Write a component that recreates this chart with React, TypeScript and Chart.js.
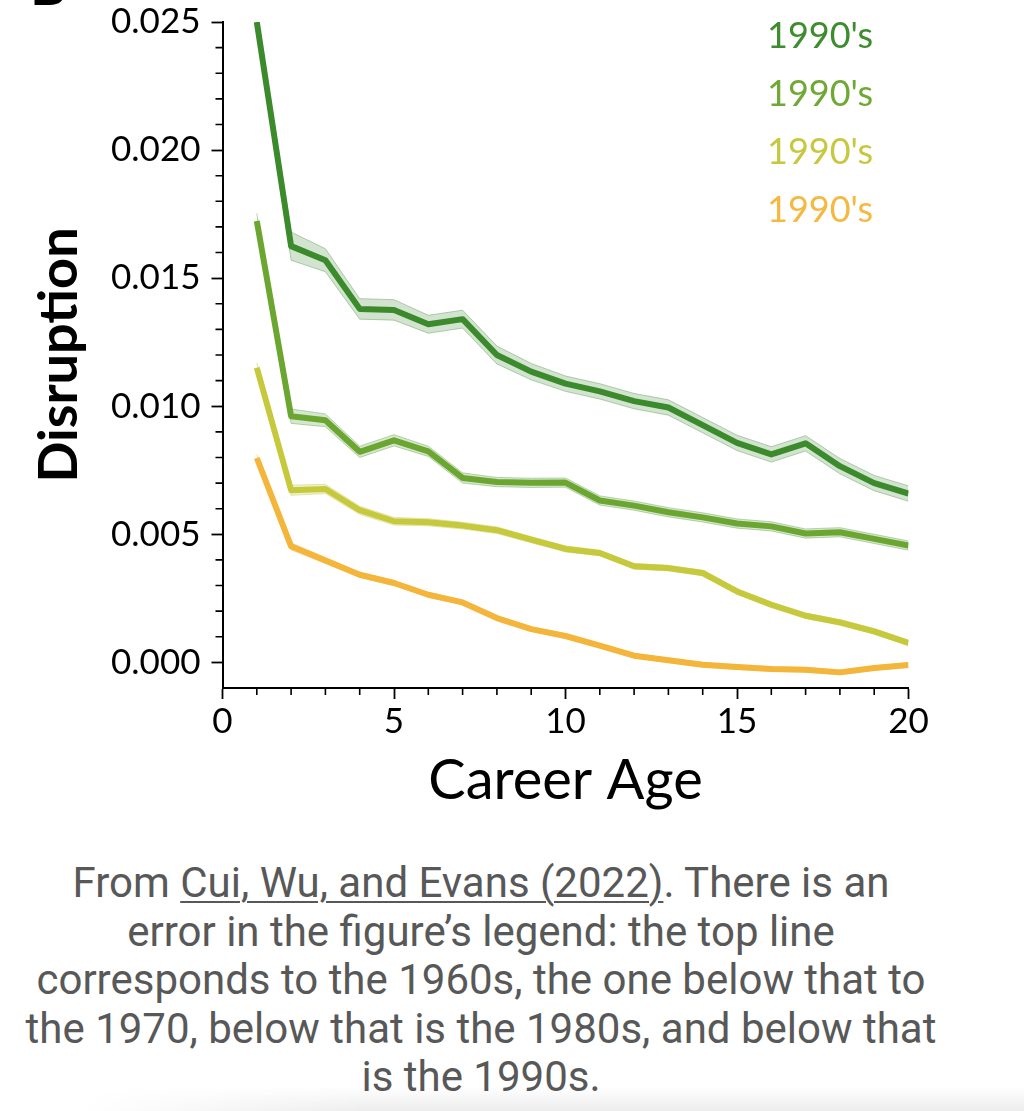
import React, { useEffect, useRef } from 'react';
import { Chart, registerables } from 'chart.js';

Chart.register(...registerables);

// ---- data ----
const careerAge = [1, 2, 3, 4, 5, 6, 7, 8, 9, 10, 11, 12, 13, 14, 15, 16, 17, 18, 19, 20];

const line1960 = [0.0250, 0.01625, 0.01570, 0.01380, 0.01376, 0.01320, 0.01340, 0.01200, 0.01135, 0.01088,
  0.01058, 0.01020, 0.00995, 0.00926, 0.00857, 0.00812, 0.00855, 0.00766, 0.00700, 0.00659];
const line1970 = [0.01723, 0.00961, 0.00945, 0.00822, 0.00867, 0.00824, 0.00720, 0.00704, 0.00701, 0.00702,
  0.00632, 0.00612, 0.00586, 0.00566, 0.00542, 0.00531, 0.00503, 0.00508, 0.00482, 0.00456];
const line1980 = [0.01150, 0.00672, 0.00677, 0.00594, 0.00551, 0.00547, 0.00534, 0.00516, 0.00479, 0.00443,
  0.00427, 0.00375, 0.00368, 0.00349, 0.00277, 0.00225, 0.00182, 0.00156, 0.00121, 0.00076];
const line1990 = [0.00798, 0.00453, 0.00398, 0.00342, 0.00310, 0.00264, 0.00234, 0.00173, 0.00130, 0.00103,
  0.00065, 0.00026, 0.00008, -0.00009, -0.00018, -0.00026, -0.00029, -0.00039, -0.00022, -0.00010];

// half-widths of the shaded confidence bands
const ci1960 = [0.0004, 0.00055, 0.00045, 0.0004, 0.0004, 0.00035, 0.00035, 0.00035, 0.00032, 0.0003,
  0.0003, 0.0003, 0.0003, 0.0003, 0.0003, 0.0003, 0.0003, 0.0003, 0.0003, 0.0003];
const ci1970 = [0.0003, 0.00028, 0.00025, 0.00022, 0.00022, 0.0002, 0.0002, 0.00018, 0.00018, 0.00018,
  0.00018, 0.00018, 0.00018, 0.00018, 0.00018, 0.00018, 0.00018, 0.00018, 0.00018, 0.00018];
const ci1980 = [0.0002, 0.0002, 0.00018, 0.00016, 0.00015, 0.00014, 0.00013, 0.00013, 0.00012, 0.00012,
  0.00011, 0.00011, 0.00011, 0.00011, 0.00011, 0.00011, 0.00011, 0.00011, 0.00011, 0.00011];
const ci1990 = [0.00015, 0.00014, 0.00012, 0.0001, 0.0001, 0.00009, 0.00009, 0.00009, 0.00009, 0.00009,
  0.00009, 0.00009, 0.00009, 0.00009, 0.00009, 0.00009, 0.00009, 0.00009, 0.00009, 0.00009];

const xTickValues = [0, 5, 10, 15, 20];
const yTickValues = [0, 0.005, 0.01, 0.015, 0.02, 0.025];
const legendLabels = ["1990's", "1990's", "1990's", "1990's"];

const lineColors = ['#3b8a2c', '#6ba630', '#c6c93b', '#f4b53b'];
const legendColors = ['#3d8c2e', '#70a836', '#c8c840', '#f5b840'];
const bandFills = ['rgba(95,155,85,0.28)', 'rgba(110,165,85,0.28)', 'rgba(200,205,90,0.30)', 'rgba(245,185,70,0.28)'];
const bandEdges = ['rgba(95,155,85,0.45)', 'rgba(110,165,85,0.45)', 'rgba(200,205,90,0.45)', 'rgba(245,185,70,0.40)'];

const seriesValues = [line1960, line1970, line1980, line1990];
const seriesCi = [ci1960, ci1970, ci1980, ci1990];

const decorPlugin = {
  id: 'decor',
  afterDraw(chart: any) {
    const { ctx, chartArea, scales } = chart;
    const x = scales.x;
    const y = scales.y;
    ctx.save();
    ctx.strokeStyle = '#000';
    ctx.lineWidth = 1.6;
    ctx.beginPath();
    for (let k = 0; k <= 20; k++) {
      if (k % 5 === 0) continue;
      const px = x.getPixelForValue(k);
      ctx.moveTo(px, chartArea.bottom);
      ctx.lineTo(px, chartArea.bottom + 7);
    }
    for (let k = 0; k <= 25; k++) {
      if (k % 5 === 0) continue;
      const py = y.getPixelForValue(k / 1000);
      ctx.moveTo(chartArea.left - 7, py);
      ctx.lineTo(chartArea.left, py);
    }
    ctx.stroke();

    ctx.font = '36px Lato';
    ctx.textBaseline = 'middle';
    ctx.textAlign = 'left';
    legendLabels.forEach((t, i) => {
      ctx.fillStyle = legendColors[i];
      ctx.fillText(t, chartArea.right - 141.5, chartArea.top + 14 + i * 58);
    });

    ctx.font = 'bold 56px Lato';
    ctx.fillStyle = '#000';
    ctx.textBaseline = 'alphabetic';
    ctx.fillText('B', 30, 5);
    ctx.restore();
  },
};

export default function App() {
  const canvasRef = useRef<HTMLCanvasElement | null>(null);

  useEffect(() => {
    if (!canvasRef.current) return;
    const datasets: any[] = [];
    seriesValues.forEach((vals, i) => {
      datasets.push({
        label: 'line' + i,
        data: careerAge.map((a, j) => ({ x: a, y: vals[j] })),
        borderColor: lineColors[i],
        borderWidth: 6,
        pointRadius: 0,
        fill: false,
        tension: 0,
        borderJoinStyle: 'round',
        order: 0,
      });
    });
    seriesValues.forEach((vals, i) => {
      const ci = seriesCi[i];
      datasets.push({
        label: 'upper' + i,
        data: careerAge.map((a, j) => ({ x: a, y: vals[j] + ci[j] })),
        borderColor: bandEdges[i],
        borderWidth: 1,
        backgroundColor: bandFills[i],
        pointRadius: 0,
        fill: '+1',
        tension: 0,
        order: 1,
      });
      datasets.push({
        label: 'lower' + i,
        data: careerAge.map((a, j) => ({ x: a, y: vals[j] - ci[j] })),
        borderColor: bandEdges[i],
        borderWidth: 1,
        pointRadius: 0,
        fill: false,
        tension: 0,
        order: 1,
      });
    });

    const tickFont = { family: 'Lato', size: 35 };
    const chart = new Chart(canvasRef.current, {
      type: 'line',
      data: { datasets },
      plugins: [decorPlugin],
      options: {
        animation: false,
        responsive: false,
        maintainAspectRatio: false,
        layout: { padding: { top: 22, right: 115.5, left: 0, bottom: 0 } },
        plugins: { legend: { display: false }, tooltip: { enabled: false } },
        scales: {
          x: {
            type: 'linear',
            min: 0,
            max: 20,
            afterBuildTicks: (s: any) => {
              s.ticks = xTickValues.map((v) => ({ value: v }));
            },
            afterFit: (s: any) => {
              s.height = 142;
              s.paddingLeft = 0;
              s.paddingRight = 0;
            },
            ticks: {
              font: tickFont,
              color: '#000',
              padding: 2,
              maxRotation: 0,
              autoSkip: false,
              callback: (v: any) => String(v),
            },
            grid: {
              display: true,
              drawOnChartArea: false,
              drawTicks: true,
              tickLength: 11,
              tickColor: '#000',
              tickWidth: 1.8,
            },
            border: { display: true, color: '#000', width: 2 },
            title: {
              display: true,
              text: 'Career Age',
              color: '#000',
              font: { family: 'Lato', size: 56 },
              padding: { top: 0, bottom: 15 },
            },
          },
          y: {
            type: 'linear',
            min: -0.001,
            max: 0.025,
            afterBuildTicks: (s: any) => {
              s.ticks = yTickValues.map((v) => ({ value: v }));
            },
            afterFit: (s: any) => {
              s.width = 222.5;
              s.paddingTop = 0;
              s.paddingBottom = 0;
            },
            ticks: {
              font: tickFont,
              color: '#000',
              padding: 11,
              autoSkip: false,
              callback: (v: any) => Number(v).toFixed(3),
            },
            grid: {
              display: true,
              drawOnChartArea: false,
              drawTicks: true,
              tickLength: 11,
              tickColor: '#000',
              tickWidth: 1.8,
            },
            border: { display: true, color: '#000', width: 2 },
            title: {
              display: true,
              text: 'Disruption',
              color: '#000',
              font: { family: 'Lato', size: 54, weight: 'bold' },
              padding: { top: 27, bottom: 0 },
            },
          },
        },
      } as any,
    });
    return () => chart.destroy();
  }, []);

  return (
    <div style={{ position: 'absolute', left: 0, top: 0, width: 1024, height: 1111, overflow: 'hidden', background: '#fff' }}>
      <canvas ref={canvasRef} width={1024} height={830} style={{ position: 'absolute', left: 0, top: 0, width: 1024, height: 830 }} />
      <div
        style={{
          position: 'absolute',
          left: 0,
          top: 859,
          width: 962,
          textAlign: 'center',
          fontFamily: 'Roboto, sans-serif',
          fontSize: 42,
          lineHeight: '48.5px',
          color: '#585858',
          whiteSpace: 'nowrap',
        }}
      >
        From <span style={{ textDecoration: 'underline', textDecorationThickness: 2, textUnderlineOffset: 4 }}>Cui, Wu, and Evans (2022)</span>. There is an
        <br />
        error in the figure’s legend: the top line
        <br />
        corresponds to the 1960s, the one below that to
        <br />
        the 1970, below that is the 1980s, and below that
        <br />
        is the 1990s.
      </div>
      <div
        style={{
          position: 'absolute',
          left: 80,
          top: 1086,
          width: 944,
          height: 25,
          background: 'linear-gradient(to bottom, rgba(0,0,0,0), rgba(0,0,0,0.07))',
          WebkitMaskImage: 'linear-gradient(to right, rgba(0,0,0,0), rgba(0,0,0,1) 30%)',
          maskImage: 'linear-gradient(to right, rgba(0,0,0,0), rgba(0,0,0,1) 30%)',
        }}
      />
    </div>
  );
}
